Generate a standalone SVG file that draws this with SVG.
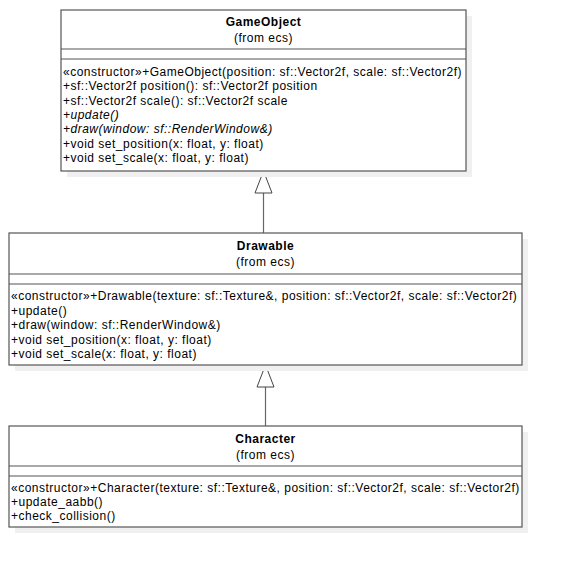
<svg xmlns="http://www.w3.org/2000/svg" width="563" height="568" viewBox="0 0 563 568">
<defs>
<style>
.shadow{fill:#f0f0f0;stroke:none}
.box{fill:#fff;stroke:#555;stroke-width:1.2}
.sep{stroke:#555;stroke-width:1.2}
text{font-family:"Liberation Sans",Arial,Helvetica,sans-serif;font-size:12px;letter-spacing:0.5px;fill:#000}
.title{font-weight:bold;text-anchor:middle}
.pkg{text-anchor:middle}
.it{font-style:italic}
.conn{stroke:#666;stroke-width:1.2;fill:none}
.tri{fill:#fff;stroke:#444;stroke-width:1}
</style>
</defs>
<rect width="563" height="568" fill="#fff"/>
<g id="connectors">
<line class="conn" x1="263.5" y1="193" x2="263.5" y2="233"/>
<polygon class="tri" points="263.5,171 255,193 272,193"/>
<line class="conn" x1="265.5" y1="387" x2="265.5" y2="426"/>
<polygon class="tri" points="265.5,365 257,387 274,387"/>
</g>
<g id="GameObject">
<rect class="shadow" x="67" y="16" width="405" height="161"/>
<rect class="box" x="61" y="10" width="405" height="161"/>
<line class="sep" x1="61" y1="49" x2="466" y2="49"/>
<line class="sep" x1="61" y1="59" x2="466" y2="59"/>
<text class="title" x="263.5" y="26">GameObject</text>
<text class="pkg" x="263.5" y="42">(from ecs)</text>
<text x="63" y="76">«constructor»+GameObject(position: sf::Vector2f, scale: sf::Vector2f)</text>
<text x="63" y="90.3">+sf::Vector2f position(): sf::Vector2f position</text>
<text x="63" y="104.6">+sf::Vector2f scale(): sf::Vector2f scale</text>
<text class="it" x="63" y="118.9">+update()</text>
<text class="it" x="63" y="133.2">+draw(window: sf::RenderWindow&amp;)</text>
<text x="63" y="147.5">+void set_position(x: float, y: float)</text>
<text x="63" y="161.8">+void set_scale(x: float, y: float)</text>
</g>
<g id="Drawable">
<rect class="shadow" x="15" y="239" width="513" height="132"/>
<rect class="box" x="9" y="233" width="513" height="132"/>
<line class="sep" x1="9" y1="274" x2="522" y2="274"/>
<line class="sep" x1="9" y1="284" x2="522" y2="284"/>
<text class="title" x="265.5" y="250">Drawable</text>
<text class="pkg" x="265.5" y="266">(from ecs)</text>
<text x="11" y="300">«constructor»+Drawable(texture: sf::Texture&amp;, position: sf::Vector2f, scale: sf::Vector2f)</text>
<text x="11" y="314.5">+update()</text>
<text x="11" y="329">+draw(window: sf::RenderWindow&amp;)</text>
<text x="11" y="343.5">+void set_position(x: float, y: float)</text>
<text x="11" y="358">+void set_scale(x: float, y: float)</text>
</g>
<g id="Character">
<rect class="shadow" x="15" y="432" width="513" height="101"/>
<rect class="box" x="9" y="426" width="513" height="101"/>
<line class="sep" x1="9" y1="466" x2="522" y2="466"/>
<line class="sep" x1="9" y1="476" x2="522" y2="476"/>
<text class="title" x="265.5" y="443">Character</text>
<text class="pkg" x="265.5" y="459">(from ecs)</text>
<text x="11" y="492">«constructor»+Character(texture: sf::Texture&amp;, position: sf::Vector2f, scale: sf::Vector2f)</text>
<text x="11" y="506">+update_aabb()</text>
<text x="11" y="520">+check_collision()</text>
</g>
</svg>
